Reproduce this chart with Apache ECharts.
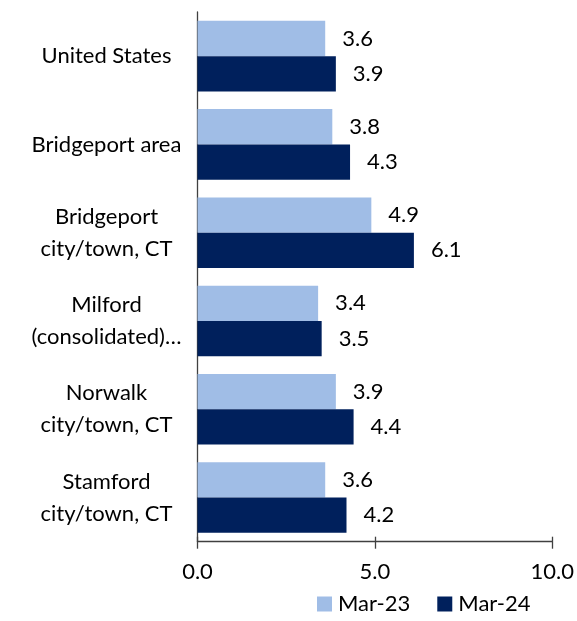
<!DOCTYPE html>
<html><head><meta charset="utf-8">
<script src="https://cdn.jsdelivr.net/npm/echarts@6/dist/echarts.min.js"></script>
<style>html,body{margin:0;padding:0;background:#fff}#c{width:577px;height:621px}</style>
</head><body><div id="c"></div>
<script>
const categories = ["United States", "Bridgeport area", "Bridgeport\ncity/town, CT", "Milford\n(consolidated)…", "Norwalk\ncity/town, CT", "Stamford\ncity/town, CT"];
const mar23 = [3.6, 3.8, 4.9, 3.4, 3.9, 3.6];
const mar24 = [3.9, 4.3, 6.1, 3.5, 4.4, 4.2];
const seriesNames = ["Mar-23", "Mar-24"];
const xTicks = [0, 5, 10];

const font = "Lato";
const fs = 22;
const chart = echarts.init(document.getElementById('c'));
chart.setOption({
  animation: false,
  textStyle: { fontFamily: font },
  grid: { left: 197.5, right: 24.7, top: 12, bottom: 79.3, containLabel: false },
  legend: {
    bottom: 1, left: 312,
    itemWidth: 15, itemHeight: 15, itemGap: 27,
    icon: 'rect',
    textStyle: { fontFamily: font, fontSize: fs, color: '#000', padding: [0, 0, 0, 1] },
    data: seriesNames
  },
  xAxis: [{
    type: 'value', min: 0, max: 10, interval: 5,
    axisLine: { show: true, lineStyle: { color: '#404040', width: 1.3 } },
    axisTick: { show: true, length: 7, lineStyle: { color: '#404040', width: 1.3 } },
    splitLine: { show: false },
    axisLabel: { fontFamily: font, fontSize: fs, color: '#000', margin: 19,
      formatter: v => xTicks.includes(v) ? v.toFixed(1) : '' }
  }, {
    type: 'value', min: 0, max: 10, interval: 5, position: 'bottom',
    axisLine: { show: false },
    axisTick: { show: true, inside: true, length: 5, lineStyle: { color: '#404040', width: 1.3 } },
    splitLine: { show: false }, axisLabel: { show: false }
  }],
  yAxis: {
    type: 'category', inverse: true, data: categories,
    axisLine: { show: true, lineStyle: { color: '#404040', width: 1.3 } },
    axisTick: { show: false },
    axisLabel: { fontFamily: font, fontSize: fs, color: '#000', align: 'center', margin: 91, lineHeight: 32 }
  },
  series: [{
    name: seriesNames[0], type: 'bar', data: mar23, xAxisIndex: 0,
    barGap: '0%', barCategoryGap: '20%',
    itemStyle: { color: '#A0BDE6' },
    label: { show: true, position: 'right', distance: 17, fontFamily: font, fontSize: fs, color: '#000', formatter: p => p.value.toFixed(1) }
  }, {
    name: seriesNames[1], type: 'bar', data: mar24, xAxisIndex: 0,
    barGap: '0%', barCategoryGap: '20%',
    itemStyle: { color: '#00205C' },
    label: { show: true, position: 'right', distance: 17, fontFamily: font, fontSize: fs, color: '#000', formatter: p => p.value.toFixed(1) }
  }]
});
</script></body></html>
